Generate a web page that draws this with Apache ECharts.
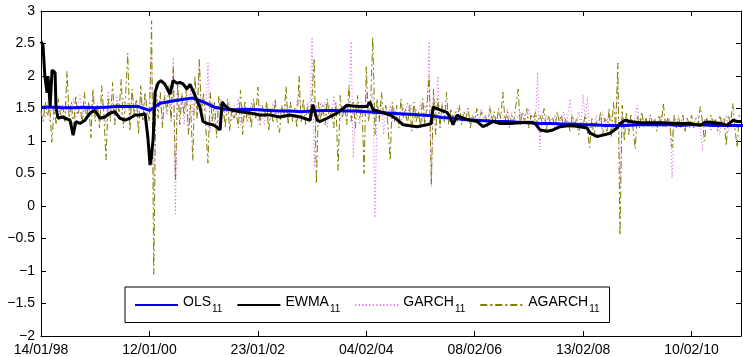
<!DOCTYPE html>
<html>
<head>
<meta charset="utf-8">
<script src="https://cdn.jsdelivr.net/npm/echarts@6/dist/echarts.min.js"></script>
<style>html,body{margin:0;padding:0;background:#fff}#c{width:743px;height:357px}</style>
</head>
<body>
<div id="c"></div>
<script>
// ---- data (observation index on x, beta estimate on y) ----
const tickLabels = ['14/01/98','12/01/00','23/01/02','04/02/04','08/02/06','13/02/08','10/02/10'];
const tickStep = 500;          // observations between date ticks
const nObs = 3228;

const olsStep = 50;
const ols = [1.52,1.52,1.51,1.51,1.52,1.51,1.52,1.53,1.53,1.53,1.47,1.58,1.61,1.64,1.66,1.60,1.52,1.49,1.48,1.49,
  1.48,1.47,1.46,1.46,1.45,1.46,1.47,1.47,1.46,1.46,1.45,1.44,1.43,1.42,1.41,1.40,1.39,1.36,1.35,1.33,
  1.32,1.31,1.30,1.30,1.29,1.28,1.27,1.27,1.26,1.26,1.25,1.25,1.24,1.24,1.24,1.25,1.25,1.25,1.25,1.24,
  1.25,1.25,1.24,1.24,1.24,1.24];

const ewmaObs = [0,9,18,28,32,37,42,51,60,65,69,78,97,111,134,148,161,180,203,226,249,272,295,318,341,364,387,410,434,457,
  480,493,503,507,517,526,540,553,572,595,609,627,641,655,673,687,701,719,733,747,766,793,812,826,835,849,872,918,964,1010,
  1056,1102,1148,1195,1241,1254,1273,1287,1319,1365,1393,1411,1439,1471,1504,1517,1531,1563,1610,1642,1670,1734,1780,1799,1808,1840,1872,1886,1900,1919,
  1933,1965,2011,2038,2057,2085,2117,2163,2209,2255,2278,2301,2334,2361,2394,2440,2486,2518,2532,2564,2592,2624,2656,2671,2693,2716,2762,2855,2947,2993,
  3039,3062,3085,3132,3164,3192,3210,3228];
const ewmaVal = [2.53,2.48,1.99,1.74,2.00,1.80,1.53,2.09,2.12,2.05,1.53,1.35,1.37,1.35,1.32,1.09,1.30,1.27,1.32,1.43,1.47,1.35,1.37,1.43,1.45,1.35,1.32,1.35,1.40,1.40,
  1.42,1.05,0.63,0.70,1.02,1.75,1.89,1.93,1.87,1.72,1.93,1.89,1.90,1.88,1.80,1.87,1.77,1.63,1.52,1.30,1.27,1.25,1.21,1.17,1.60,1.54,1.48,1.45,1.43,1.40,
  1.40,1.37,1.40,1.37,1.32,1.56,1.32,1.30,1.35,1.43,1.50,1.55,1.54,1.53,1.53,1.60,1.48,1.45,1.40,1.33,1.25,1.22,1.25,1.27,1.52,1.48,1.44,1.37,1.25,1.40,
  1.37,1.33,1.30,1.22,1.25,1.30,1.27,1.27,1.28,1.29,1.27,1.17,1.15,1.17,1.22,1.24,1.22,1.20,1.12,1.07,1.09,1.12,1.20,1.27,1.32,1.30,1.28,1.28,1.27,1.27,
  1.24,1.29,1.29,1.27,1.24,1.32,1.30,1.30];

const noiseStep = 10;
const garch = [
  1.40,1.55,1.35,1.60,1.30,1.50,1.45,1.65,1.35,1.55,
  1.45,1.30,1.60,1.50,1.40,1.65,1.35,1.55,1.70,1.40,
  1.50,1.35,1.60,1.45,1.70,1.40,1.55,1.30,1.65,1.45,
  1.25,1.77,1.45,1.60,1.35,1.70,1.50,1.40,1.65,1.45,
  1.60,1.35,1.72,1.50,1.60,1.35,1.75,1.50,1.65,1.40,
  1.55,2.40,0.20,1.80,1.45,1.65,1.30,1.75,1.40,1.60,
  1.35,2.28,-0.12,1.85,1.40,1.75,1.25,1.60,1.10,1.80,
  1.40,1.65,1.35,2.25,1.30,1.60,1.45,2.20,1.14,1.60,
  1.30,1.55,1.20,1.65,1.35,1.50,1.40,1.60,1.30,1.55,
  1.40,1.65,1.25,1.55,1.35,1.50,1.30,1.60,1.40,1.45,
  1.30,1.55,1.40,1.25,1.60,1.45,1.35,1.60,1.40,1.50,
  1.35,1.50,1.40,1.60,1.30,1.55,1.45,1.35,1.60,1.75,
  1.35,1.50,1.40,1.60,1.30,2.60,0.60,1.55,1.35,1.60,
  1.40,1.60,1.20,1.55,1.35,1.70,1.40,1.50,1.30,1.55,
  1.45,1.35,1.60,2.53,0.74,1.50,1.40,1.25,1.60,1.40,
  1.75,1.40,1.60,1.75,-0.18,1.55,1.35,1.60,1.10,1.50,
  1.35,1.55,1.30,1.50,1.35,1.45,1.25,1.55,1.35,1.60,
  1.40,1.55,1.30,1.50,1.35,1.60,1.30,1.55,1.45,2.53,
  0.30,1.75,1.40,2.00,1.20,1.60,1.30,1.55,1.40,1.45,
  1.35,1.40,1.50,1.35,1.30,1.45,1.40,1.50,1.30,1.40,
  1.45,1.35,1.30,1.50,1.40,1.35,1.25,1.55,1.35,1.40,
  1.30,1.45,1.35,1.40,1.30,1.50,1.35,1.45,1.25,1.40,
  1.35,1.45,1.30,1.40,1.25,1.50,1.35,1.40,1.30,2.06,
  0.86,1.45,1.30,1.40,1.25,1.35,1.30,1.40,1.20,1.35,
  1.30,1.45,1.25,1.40,1.65,1.20,1.35,1.30,1.45,1.25,
  1.72,1.30,1.68,1.10,1.35,1.20,1.40,1.25,1.30,1.45,
  1.20,1.35,1.25,1.40,1.15,1.35,1.90,0.30,1.45,1.20,
  1.40,1.25,1.35,1.20,1.40,1.55,1.25,1.35,1.20,1.35,
  1.25,1.40,1.20,1.35,1.25,1.30,1.40,1.20,1.35,1.25,
  1.35,0.43,1.35,1.25,1.40,1.20,1.30,1.25,1.35,1.20,
  1.30,1.25,1.35,1.40,1.20,0.85,1.35,1.25,1.30,1.15,
  1.35,1.25,1.30,1.10,1.35,1.20,1.40,1.15,1.30,1.25,
  1.35,1.20,1.30];
const agarch = [
  1.45,1.30,1.60,1.38,1.55,0.98,1.50,1.25,1.65,1.40,
  1.55,1.30,2.07,1.35,1.60,1.20,1.70,1.40,1.55,1.25,
  1.75,1.35,1.60,1.05,1.80,1.30,1.55,1.20,1.85,1.40,
  0.71,1.65,1.30,1.90,1.25,1.60,1.45,1.95,1.20,1.70,
  2.35,1.15,1.80,1.40,1.65,1.10,1.85,1.30,1.75,1.45,
  1.30,2.85,-1.05,1.90,1.35,1.75,1.20,1.70,1.45,1.85,
  1.30,2.14,0.40,1.90,1.25,1.70,1.40,1.80,1.10,1.55,
  0.70,2.00,1.35,2.25,1.40,1.75,1.20,0.66,1.75,1.30,
  1.60,1.05,1.70,1.30,1.55,1.20,1.65,1.15,1.50,1.35,
  1.45,1.20,1.78,1.10,1.60,1.30,1.50,1.20,1.65,1.35,
  1.83,1.25,1.55,1.35,1.60,1.15,1.50,1.30,1.65,1.25,
  1.13,1.55,1.35,1.84,1.25,1.60,1.30,1.50,1.20,2.00,
  1.30,1.65,1.25,1.55,1.35,1.70,2.27,0.34,1.60,1.30,
  1.55,1.25,1.65,1.35,1.50,1.20,1.60,0.55,1.70,1.35,
  1.55,1.25,1.85,1.30,1.60,1.20,1.70,1.35,1.55,0.50,
  2.14,1.30,1.55,2.60,1.10,1.65,1.30,1.75,1.40,1.55,
  1.25,0.70,1.60,1.30,1.55,1.20,1.65,1.35,1.50,1.25,
  1.55,1.15,1.60,1.30,1.45,1.20,1.65,1.25,1.55,2.00,
  0.33,1.80,1.10,1.65,1.20,1.55,1.30,1.75,1.25,1.50,
  1.35,1.45,1.30,1.55,1.25,1.45,1.35,1.50,1.20,1.40,
  1.30,1.50,1.25,1.45,1.35,1.40,1.20,1.50,1.30,1.45,
  1.25,1.50,1.35,1.75,1.30,1.45,1.20,1.40,1.30,1.55,
  1.80,1.25,1.45,1.30,1.50,1.20,1.40,1.30,1.45,1.25,
  1.40,1.30,1.50,1.15,1.40,1.25,1.35,1.20,1.45,1.30,
  1.40,1.20,1.35,1.30,1.15,1.40,1.25,1.35,1.10,1.30,
  1.25,1.40,1.15,0.90,1.35,1.05,1.30,1.20,1.45,1.10,
  1.35,1.15,1.50,1.05,1.60,1.20,2.20,-0.45,1.55,1.00,
  1.45,1.10,1.40,1.20,0.88,1.40,1.20,1.45,1.25,1.35,
  1.20,1.40,1.25,1.35,1.15,1.40,1.25,1.58,1.20,1.35,
  1.25,0.90,1.40,1.20,1.35,1.25,1.40,1.15,1.35,1.25,
  1.40,1.20,1.35,1.25,1.53,1.30,1.00,1.35,1.20,1.40,
  1.25,1.35,1.15,1.40,1.25,1.35,0.93,1.40,1.25,1.58,
  1.20,0.90,1.40];

// ---- chart ----
const FONT = 'Liberation Sans, Arial, Helvetica, sans-serif';
const minus = s => String(s).replace('-', '\u2212');
const chart = echarts.init(document.getElementById('c'), null, {renderer: 'canvas'});
const axisCommon = {
  min: 0, max: nObs, interval: tickStep, type: 'value',
  axisLine: {show: true, onZero: false, lineStyle: {color: '#000', width: 1}},
  axisTick: {show: true, inside: true, length: 5, lineStyle: {color: '#000'}},
  splitLine: {show: false}
};
const yCommon = {
  type: 'value', min: -2, max: 3, interval: 0.5,
  axisLine: {show: true, onZero: false, lineStyle: {color: '#000', width: 1}},
  axisTick: {show: true, inside: true, length: 5, lineStyle: {color: '#000'}},
  splitLine: {show: false}
};
const sub = n => '{a|' + n + '}{b|11}';
chart.setOption({
  animation: false,
  backgroundColor: '#fff',
  textStyle: {fontFamily: FONT},
  grid: {left: 41, top: 11, right: 2, bottom: 20},
  xAxis: [
    Object.assign({}, axisCommon, {position: 'bottom',
      axisLabel: {show: true, color: '#000', fontSize: 14, fontFamily: FONT, margin: 7,
        formatter: v => tickLabels[Math.round(v / tickStep)] || ''}}),
    Object.assign({}, axisCommon, {position: 'top', axisLabel: {show: false}})
  ],
  yAxis: [
    Object.assign({}, yCommon, {position: 'left',
      axisLabel: {show: true, color: '#000', fontSize: 14, fontFamily: FONT, margin: 6,
        formatter: v => minus(v)}}),
    Object.assign({}, yCommon, {position: 'right', axisLabel: {show: false}})
  ],
  legend: {
    left: 125, top: 287, orient: 'horizontal',
    data: ['OLS', 'EWMA', 'GARCH', 'AGARCH'],
    itemWidth: 43, itemHeight: 14, itemGap: 14,
    padding: [8, 10, 8, 9],
    borderColor: '#000', borderWidth: 1, borderRadius: 0, backgroundColor: '#fff',
    itemStyle: {opacity: 0},
    formatter: sub,
    textStyle: {color: '#000', fontFamily: FONT,
      rich: {a: {fontSize: 14, fontFamily: FONT, color: '#000', padding: [0, 0, 6, 0]},
             b: {fontSize: 10, fontFamily: FONT, color: '#000', padding: [9, 0, 0, 1]}}}
  },
  series: [
    {name: 'GARCH', type: 'line', symbol: 'none', showSymbol: false, z: 1,
      data: garch.map((v, i) => [i * noiseStep, v]),
      lineStyle: {color: '#d65ce6', width: 1, type: [1, 2.5]}, itemStyle: {color: '#d65ce6'}},
    {name: 'AGARCH', type: 'line', symbol: 'none', showSymbol: false, z: 2,
      data: agarch.map((v, i) => [i * noiseStep, v]),
      lineStyle: {color: '#808000', width: 1, type: [7, 3, 2, 3]}, itemStyle: {color: '#808000'}},
    {name: 'OLS', type: 'line', symbol: 'none', showSymbol: false, z: 3,
      data: ols.map((v, i) => [i * olsStep, v]),
      lineStyle: {color: '#0000ff', width: 3}, itemStyle: {color: '#0000ff'}},
    {name: 'EWMA', type: 'line', symbol: 'none', showSymbol: false, z: 4,
      data: ewmaObs.map((t, i) => [t, ewmaVal[i]]),
      lineStyle: {color: '#000', width: 3}, itemStyle: {color: '#000'}}
  ]
});
</script>
</body>
</html>
